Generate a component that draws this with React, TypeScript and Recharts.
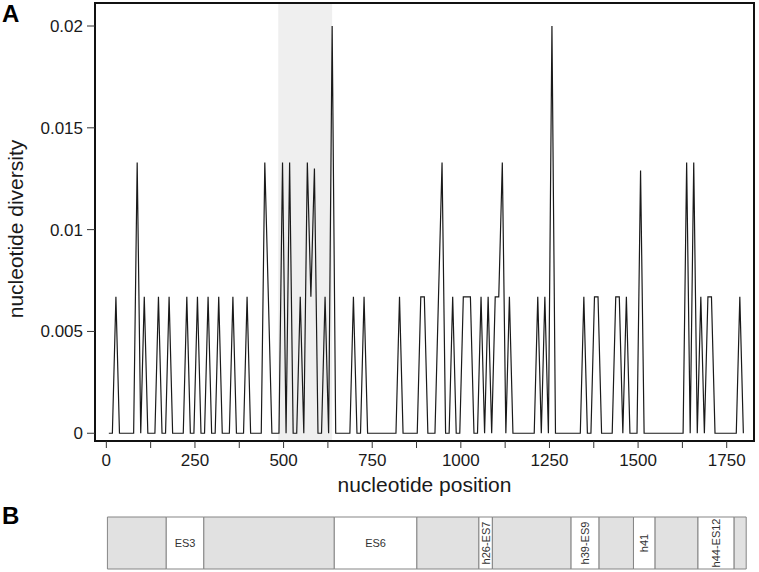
import { LineChart, Line, XAxis, YAxis, ReferenceArea, ComposedChart, Label } from "recharts";

// polyline vertices (nucleotide position, nucleotide diversity), zero runs kept as their ends
const positions = [
  7, 17, 27, 37, 77, 87, 97, 107, 117, 137, 147, 157, 167, 177, 187, 217, 227, 237, 247, 257,
  267, 277, 287, 297, 307, 317, 327, 347, 357, 367, 387, 397, 407, 437, 447, 457, 467, 487, 497, 507,
  517, 527, 537, 547, 557, 567, 577, 587, 597, 607, 617, 627, 637, 647, 687, 697, 707, 717, 727, 737,
  817, 827, 837, 877, 887, 897, 907, 927, 937, 947, 957, 967, 977, 987, 997, 1007, 1027, 1037, 1047, 1057,
  1067, 1077, 1087, 1097, 1107, 1117, 1127, 1137, 1147, 1207, 1217, 1227, 1237, 1247, 1257, 1267, 1337, 1347, 1357, 1367,
  1377, 1387, 1397, 1427, 1437, 1447, 1457, 1467, 1477, 1497, 1507, 1517, 1627, 1637, 1647, 1657, 1667, 1677, 1687, 1697,
  1707, 1717, 1777, 1787, 1797,
];
const diversity = [
  0, 0, 0.0067, 0, 0, 0.0133, 0, 0.0067, 0, 0, 0.0067, 0, 0, 0.0067, 0, 0, 0.0067, 0, 0, 0.0067,
  0, 0, 0.0067, 0, 0, 0.0067, 0, 0, 0.0067, 0, 0, 0.0067, 0, 0, 0.0133, 0.0067, 0, 0, 0.0133, 0,
  0.0133, 0, 0, 0.0067, 0, 0.0133, 0.0067, 0.013, 0, 0, 0.0067, 0, 0.02, 0, 0, 0.0067, 0, 0, 0.0067, 0,
  0, 0.0067, 0, 0, 0.0067, 0.0067, 0, 0, 0.0067, 0.0133, 0, 0, 0.0067, 0, 0, 0.0067, 0.0067, 0, 0, 0.0067,
  0, 0.0067, 0, 0.0067, 0.0067, 0.0133, 0, 0.0067, 0, 0, 0.0067, 0, 0.0067, 0, 0.02, 0, 0, 0.0067, 0, 0,
  0.0067, 0.0067, 0, 0, 0.0067, 0.0067, 0, 0.0067, 0, 0, 0.0129, 0, 0, 0.0133, 0, 0.0133, 0, 0.0067, 0, 0.0067,
  0.0067, 0, 0, 0.0067, 0,
];

const xTicks = [0, 125, 250, 375, 500, 625, 750, 875, 1000, 1125, 1250, 1375, 1500, 1625, 1750];
const yTicks = [0, 0.005, 0.01, 0.015, 0.02];
const shaded = [485, 637];

// panel B: rRNA regions
const regionNames = ["", "ES3", "", "ES6", "", "h26-ES7", "", "h39-ES9", "", "h41", "", "h44-ES12", ""];
const regionStarts = [3, 169, 275, 643, 876, 1051, 1089, 1311, 1390, 1487, 1548, 1669, 1771];
const regionEnds = [169, 275, 643, 876, 1051, 1089, 1311, 1390, 1487, 1548, 1669, 1771, 1805];

const X_DOMAIN: [number, number] = [-32, 1827];
const Y_DOMAIN: [number, number] = [-0.00038, 0.02113];
const font = '"Liberation Sans", Arial, Helvetica, sans-serif';
const ink = "#1a1a1a";

const data = positions.map((p, i) => ({ pos: p, pi: diversity[i] }));
const regions = regionNames.map((name, i) => ({ name, start: regionStarts[i], end: regionEnds[i] }));

function RegionLabel({ viewBox, name }: { viewBox?: any; name: string }) {
  if (!name || !viewBox) return null;
  const { x, y, width, height } = viewBox;
  const cx = x + width / 2;
  const cy = y + height / 2;
  const vertical = name.length * 6.2 > width - 6;
  return (
    <text
      x={cx}
      y={cy}
      textAnchor="middle"
      dominantBaseline="central"
      fontSize={11}
      fill="#333"
      fontFamily={font}
      transform={vertical ? `rotate(-90 ${cx} ${cy})` : undefined}
    >
      {name}
    </text>
  );
}

const panelLetter = (top: number): React.CSSProperties => ({
  position: "absolute",
  left: 2,
  top,
  fontFamily: font,
  fontWeight: 700,
  fontSize: 24,
  lineHeight: 1,
  color: "#000",
});

export default function App() {
  return (
    <div style={{ position: "absolute", left: 0, top: 0, width: 759, height: 572, background: "#fff", fontFamily: font }}>
      <div style={panelLetter(2)}>A</div>
      <div style={panelLetter(504)}>B</div>
      <div style={{ position: "absolute", left: 0, top: 0 }}>
        <LineChart width={759} height={510} data={data} margin={{ top: 3, right: 5, bottom: 0, left: 0 }}>
          <ReferenceArea x1={shaded[0]} x2={shaded[1]} y1={Y_DOMAIN[0]} y2={Y_DOMAIN[1]} fill="#efefef" fillOpacity={1} stroke="none" />
          <XAxis
            type="number"
            dataKey="pos"
            domain={X_DOMAIN}
            ticks={xTicks}
            allowDataOverflow
            interval={0}
            axisLine={false}
            tickSize={7}
            tickMargin={6}
            height={69}
            tickLine={{ stroke: "#333" }}
            tick={{ fontSize: 17, fill: ink, fontFamily: font }}
            tickFormatter={(v: number) => (v % 250 === 0 ? String(v) : "")}
          >
            <Label
              content={(p: any) => {
                const vb = p?.viewBox ?? { x: 95, y: 441, width: 659, height: 69 };
                return (
                  <text x={vb.x + vb.width / 2} y={vb.y + 51} textAnchor="middle" fontSize={21} fill={ink} fontFamily={font}>
                    nucleotide position
                  </text>
                );
              }}
            />
          </XAxis>
          <YAxis
            type="number"
            domain={Y_DOMAIN}
            ticks={yTicks}
            allowDataOverflow
            axisLine={false}
            tickSize={8}
            tickMargin={4}
            width={95}
            tickLine={{ stroke: "#333" }}
            tick={{ fontSize: 17, fill: ink, fontFamily: font }}
            tickFormatter={(v: number) => String(v)}
          >
            <Label
              content={(p: any) => {
                const vb = p?.viewBox ?? { x: 0, y: 3, width: 95, height: 438 };
                const cx = vb.x + 15;
                const cy = vb.y + vb.height / 2 + 7;
                return (
                  <text x={cx} y={cy} textAnchor="middle" dominantBaseline="central" fontSize={21} fill={ink} fontFamily={font} transform={`rotate(-90 ${cx} ${cy})`}>
                    nucleotide diversity
                  </text>
                );
              }}
            />
          </YAxis>
          <Line type="linear" dataKey="pi" stroke={ink} strokeWidth={1.2} dot={false} activeDot={false} isAnimationActive={false} />
          <ReferenceArea x1={X_DOMAIN[0]} x2={X_DOMAIN[1]} y1={Y_DOMAIN[0]} y2={Y_DOMAIN[1]} fill="none" fillOpacity={0} stroke="#111" strokeWidth={2} />
        </LineChart>
      </div>
      <div style={{ position: "absolute", left: 0, top: 510 }}>
        <ComposedChart width={759} height={62} data={regions} margin={{ top: 7, right: 5, bottom: 3, left: 95 }}>
          <XAxis type="number" dataKey="start" domain={X_DOMAIN} allowDataOverflow hide />
          <YAxis type="number" domain={[0, 1]} allowDataOverflow hide />
          {regions.map((r, i) => (
            <ReferenceArea
              key={i}
              x1={r.start}
              x2={r.end}
              y1={0}
              y2={1}
              fill={r.name ? "#ffffff" : "#e1e1e1"}
              fillOpacity={1}
              stroke="#858585"
              strokeWidth={1}
              label={(p: any) => <RegionLabel viewBox={p?.viewBox} name={r.name} />}
            />
          ))}
        </ComposedChart>
      </div>
    </div>
  );
}
